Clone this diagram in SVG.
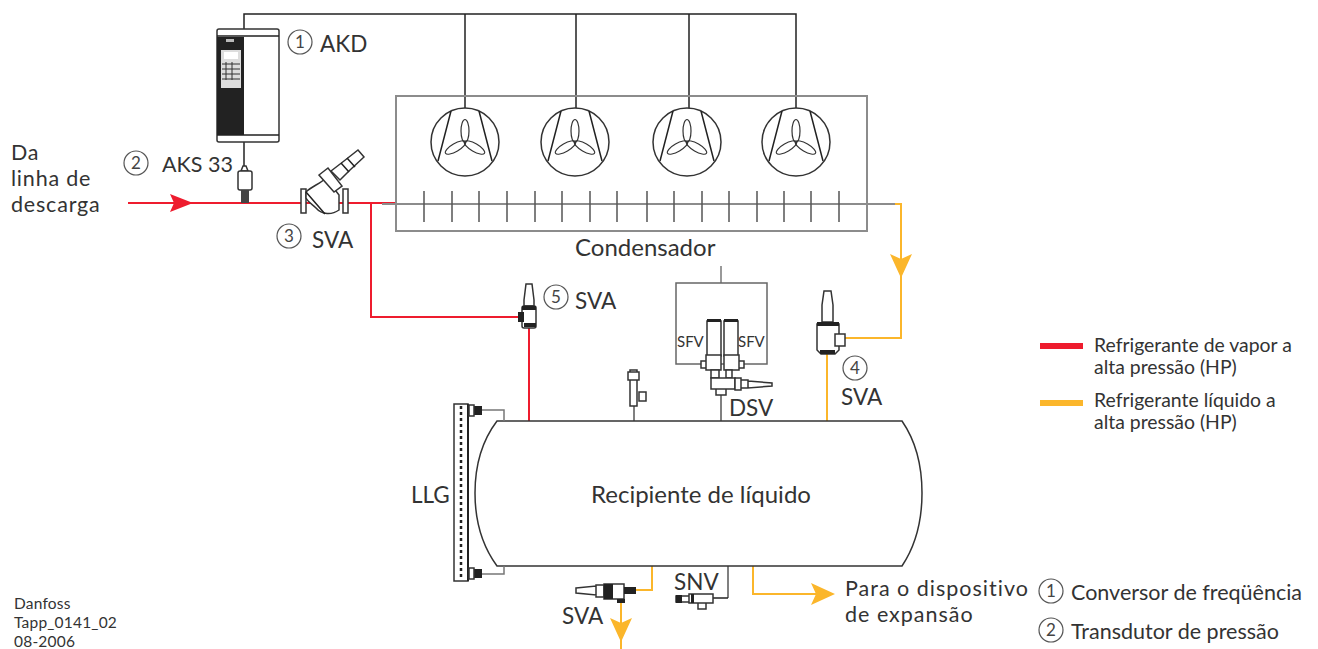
<svg xmlns="http://www.w3.org/2000/svg" xmlns:xlink="http://www.w3.org/1999/xlink" width="1318" height="649" viewBox="0 0 1318 649">
<style>
text{font-family:Lato,"Open Sans","Liberation Sans",sans-serif;fill:#333;font-size:22.5px}
.big{font-size:24px}
.h{font-size:21.5px;letter-spacing:.8px}
.p{font-size:21.5px;letter-spacing:1px}
.n{font-size:17px;text-anchor:middle;fill:#444}
.ring{fill:#fff;stroke:#555;stroke-width:1.2}
.l{font-size:19.4px}
.s{font-size:15px}
.d{font-size:15.5px;letter-spacing:.2px}
.m{font-size:21.5px}
.k{fill:none;stroke:#222;stroke-width:1.5}
.g{fill:none;stroke:#808080;stroke-width:2}
.gl{fill:none;stroke:#777;stroke-width:1.5}
.r{fill:none;stroke:#ee1c2e;stroke-width:2}
.y{fill:none;stroke:#fbb62b;stroke-width:2}
.b{fill:#fff;stroke:#333;stroke-width:1.5}
.f{fill:#222}
.t{stroke:#555;stroke-width:1.5}
</style>
<defs>
<g id="fan">
<circle r="34" fill="#fff" stroke="#333" stroke-width="1.5"/>
<path d="M-14-31L-27 19M14-31L27 19" class="k"/>
<g fill="none" stroke="#333" stroke-width="1.2">
<ellipse cy="-11" rx="4" ry="11.5"/>
<ellipse cy="-11" rx="4" ry="11.5" transform="rotate(120)"/>
<ellipse cy="-11" rx="4" ry="11.5" transform="rotate(240)"/>
</g>
</g>
<marker id="ay" markerUnits="userSpaceOnUse" markerWidth="24" markerHeight="24" refX="22" refY="11" orient="auto"><path d="M0 0L24 11L0 22L5 11Z" fill="#fbb62b"/></marker>
<marker id="ar" markerUnits="userSpaceOnUse" markerWidth="24" markerHeight="20" refX="22" refY="9" orient="auto"><path d="M0 0L23 9L0 18L4 9Z" fill="#ee1c2e"/></marker>
</defs>
<g id="connectors">
<path class="k" d="M244 29V14H796V110"/>
<path class="k" d="M465 14V110M576 14V110M689 14V110"/>
<path class="k" d="M244 142V166"/>
<path class="r" d="M128 203H396"/>
<path class="r" d="M128 203H192" marker-end="url(#ar)"/>
<path class="r" d="M371 203V317H519"/>
<path class="r" d="M529 328V421"/>
<path class="y" d="M868 204H901V338H845"/>
<path class="y" d="M901 204V276" marker-end="url(#ay)"/>
<path class="y" d="M827 354V421"/>
<path class="gl" d="M721 266V283"/>
<path class="g" d="M721 392V421"/>
<path class="g" d="M634 406V421"/>
<path class="y" d="M652 566V590H636"/>
<path class="y" d="M621 600V649"/>
<path class="y" d="M621 600V640" marker-end="url(#ay)"/>
<path class="g" d="M728 566V598"/>
<path class="k" d="M713 598H728"/>
<path class="y" d="M753 566V594H833" marker-end="url(#ay)"/>
</g>
<g id="condensador">
<rect x="396" y="96" width="471" height="135" fill="none" stroke="#8c8c8c" stroke-width="2"/>
<use xlink:href="#fan" href="#fan" x="465" y="142"/>
<use xlink:href="#fan" href="#fan" x="575" y="142"/>
<use xlink:href="#fan" href="#fan" x="687" y="142"/>
<use xlink:href="#fan" href="#fan" x="796" y="142"/>
<path d="M382 204H895" fill="none" stroke="#8c8c8c" stroke-width="2"/>
<path class="t" d="M424 191V222M452 191V222M479 191V222M507 191V222M535 191V222M562 191V222M590 191V222M617 191V222M647 191V222M674 191V222M702 191V222M729 191V222M757 191V222M784 191V222M811 191V222M839 191V222"/>
<text x="575" y="256" class="big">Condensador</text>
</g>
<g id="akd">
<rect x="217" y="29" width="62" height="113" rx="2" fill="#fff" stroke="#333" stroke-width="1.5"/>
<rect x="217" y="37" width="27" height="98" class="f"/>
<path class="k" d="M217 36H279M217 135H279"/>
<rect x="221" y="50" width="20" height="38" fill="#ddd"/>
<rect x="224" y="52" width="14" height="7" fill="#fff"/>
<path d="M222 64H240M222 69H240M222 74H240M222 79H240M226 62V80M232 62V80" stroke="#333" stroke-width="1"/>
<rect x="226" y="39" width="8" height="3" fill="#bbb"/>
<circle class="ring" cx="300" cy="42" r="12"/><text class="n" x="300" y="48">1</text><text x="320" y="52">AKD</text>
</g>
<g id="aks33">
<path class="b" d="M243 166h3l2 5h-7Z"/>
<rect x="238" y="171" width="14" height="19" rx="2" class="b"/>
<rect x="241" y="190" width="8" height="13" fill="#444"/>
<circle class="ring" cx="136" cy="163" r="12"/><text class="n" x="136" y="169">2</text><text x="162" y="172" class="m">AKS 33</text>
</g>
<g id="sva3">
<path class="b" d="M301 189h5v24h-5ZM343 189h5v24h-5Z"/>
<path class="b" d="M306 192C312 186 320 184 326 178L339 195V210C332 215 322 215 316 208C312 204 308 202 306 198Z"/>
<path class="b" d="M319 175L328 168L342 186L334 192Z"/>
<path class="b" d="M331 171L344 161L358 150L364 157L350 170L340 180Z"/>
<path class="k" d="M306 192L325 214M341 163L349 172M347 158L355 167"/>
<circle class="ring" cx="289" cy="236" r="12"/><text class="n" x="289" y="242">3</text><text x="312" y="248">SVA</text>
</g>
<g id="sva5">
<path class="b" d="M526 284h6l2 16v6h-10v-6Z"/>
<rect x="522" y="306" width="14" height="22" rx="2" class="b"/>
<path d="M522 306h14v4h-14ZM518 312h6v10h-6ZM524 323h12v4h-12Z" class="f"/>
<circle class="ring" cx="556" cy="297" r="12"/><text class="n" x="556" y="303">5</text><text x="575" y="309">SVA</text>
</g>
<g id="sva4">
<path class="b" d="M824 291h7l2 14v17h-11v-17Z"/>
<path class="b" d="M817 324h22v26l-4 4h-14l-4-4Z"/>
<path class="f" d="M817 322h22v4h-22ZM820 350h15v4h-15Z"/>
<path class="b" d="M835 334h10v12h-10Z"/>
<circle class="ring" cx="855" cy="368" r="12"/><text class="n" x="855" y="374">4</text><text x="841" y="405">SVA</text>
</g>
<g id="valvula">
<path class="b" d="M630 370h7v36h-7Z"/>
<rect x="628" y="372" width="11" height="8" class="b"/>
<rect x="639" y="392" width="7" height="9" class="b"/>
</g>
<g id="sfv">
<rect x="676" y="283" width="91" height="81" fill="none" stroke="#666" stroke-width="1.5"/>
<path d="M707 321h14v35h-14ZM724 321h14v35h-14Z" class="b"/>
<path class="f" d="M707 319h14v3h-14ZM724 319h14v3h-14Z"/>
<path class="b" d="M706 355h15v15h-15ZM724 355h15v15h-15ZM701 361h5v7h-5ZM739 361h5v7h-5Z"/>
<text x="677" y="347" class="s">SFV</text><text x="738" y="347" class="s">SFV</text>
</g>
<g id="dsv">
<path class="b" d="M711 370h8v8h-8ZM726 370h6v8h-6Z"/>
<path class="b" d="M711 378h24v11h-24ZM716 389h10v6h-10Z"/>
<path class="b" d="M735 378h6v12h-6ZM741 380h7v8h-7ZM748 381l24 2v3l-24 2Z"/>
<text x="729" y="416">DSV</text>
</g>
<g id="recipiente">
<path d="M497 421H902Q922 450 922 493Q922 536 902 566H497Q475 536 475 493Q475 450 497 421Z" fill="#fff" stroke="#333" stroke-width="1.5"/>
<text x="591" y="503" class="big">Recipiente de líquido</text>
</g>
<g id="llg">
<rect x="454" y="404" width="14" height="177" fill="#fff" stroke="#333" stroke-width="1.5"/>
<path d="M461 406V579" stroke="#222" stroke-width="2.5" stroke-dasharray="3 3"/>
<path d="M468 404V581" stroke="#222" stroke-width="2"/>
<path class="f" d="M473 406h9v9h-9ZM473 569h9v9h-9Z"/>
<path class="b" d="M469 405h5v11h-5ZM469 568h5v11h-5Z"/>
<path class="gl" d="M482 410H504V421M482 574H504V566"/>
<text x="411" y="503">LLG</text>
</g>
<g id="sva-saida">
<path class="b" d="M576 588l20-2v9l-20-2ZM596 585h8v12h-8Z"/>
<rect x="604" y="584" width="20" height="15" class="b"/>
<path class="f" d="M604 584h9v15h-9Z"/>
<rect x="624" y="587" width="12" height="7" class="f"/>
<rect x="617" y="599" width="8" height="4" class="f"/>
<text x="562" y="624">SVA</text>
</g>
<g id="snv">
<path class="b" d="M676 596h13v6h-13ZM689 594h24v9h-24ZM698 603h8v6h-8Z"/>
<path class="f" d="M676 595h6v8h-6ZM691 594h3v9h-3Z"/>
<text x="674" y="590">SNV</text>
</g>
<g id="legenda">
<path d="M1040 346H1083" stroke="#ee1c2e" stroke-width="6"/>
<path d="M1040 403H1083" stroke="#fbb62b" stroke-width="6"/>
<text x="1094" y="352" class="l">Refrigerante de vapor a</text>
<text x="1094" y="374" class="l">alta pressão (HP)</text>
<text x="1094" y="407" class="l">Refrigerante líquido a</text>
<text x="1094" y="429" class="l">alta pressão (HP)</text>
<circle class="ring" cx="1051" cy="591" r="12"/><text class="n" x="1051" y="597">1</text><text x="1071" y="600" class="m">Conversor de freqüência</text>
<circle class="ring" cx="1051" cy="630" r="12"/><text class="n" x="1051" y="636">2</text><text x="1071" y="639" class="m">Transdutor de pressão</text>
</g>
<g id="textos">
<text x="11" y="160" class="h">Da</text>
<text x="11" y="186" class="h">linha de</text>
<text x="11" y="212" class="h">descarga</text>
<text x="845" y="596" class="p">Para o dispositivo</text>
<text x="845" y="622" class="p">de expansão</text>
<text x="14" y="609" class="d">Danfoss</text>
<text x="14" y="628" class="d">Tapp_0141_02</text>
<text x="14" y="647" class="d">08-2006</text>
</g>
</svg>
